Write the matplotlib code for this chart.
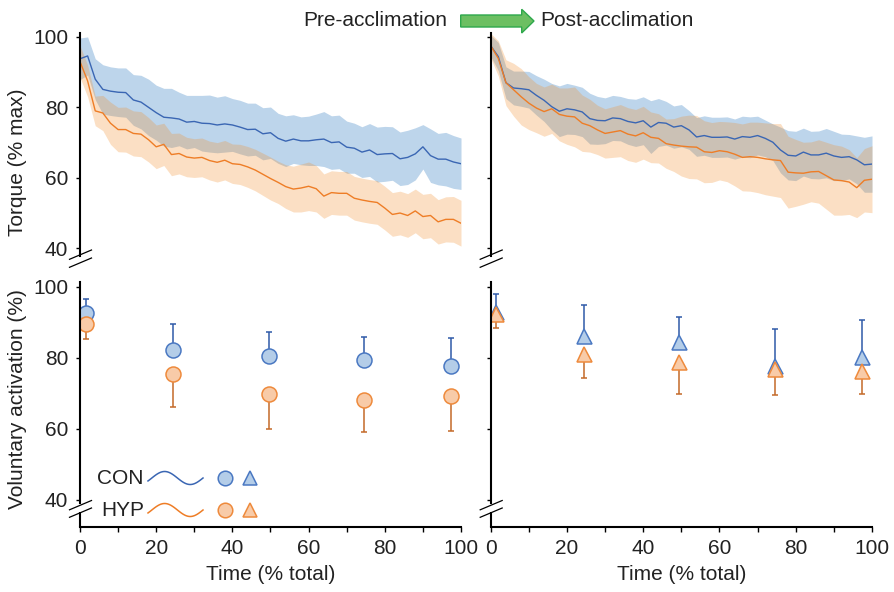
import numpy as np
import matplotlib
matplotlib.use("Agg")
import matplotlib.pyplot as plt
from matplotlib.lines import Line2D
from matplotlib.patches import Polygon
from matplotlib.transforms import Affine2D

plt.rcParams["font.family"] = ["Liberation Sans", "DejaVu Sans"]
plt.rcParams["font.size"] = 15

# --- data ---
time_pct = np.arange(0, 101, 2)

con_pre = [93.8, 94.6, 88.0, 85.1, 84.6, 84.3, 84.2, 82.1, 81.5, 80.0, 78.5,
           77.2, 77.0, 76.7, 75.8, 76.0, 75.5, 75.4, 75.0, 75.3, 75.0,
           74.4, 73.7, 73.8, 72.5, 72.8, 71.2, 70.4, 71.0, 70.5, 70.5,
           70.8, 71.0, 70.0, 70.2, 68.7, 68.4, 67.3, 67.9, 66.6, 66.8,
           66.9, 65.4, 65.8, 66.8, 68.8, 66.3, 65.3, 65.3, 64.5, 64.0]
con_pre_sd = [5.9, 5.4, 5.8, 7.0, 6.9, 6.9, 7.0, 7.2, 7.6, 8.0, 7.8,
              8.2, 8.4, 7.6, 7.6, 7.4, 7.9, 8.1, 7.9, 8.0, 7.5,
              7.6, 7.5, 7.4, 7.4, 7.3, 7.1, 7.2, 6.9, 6.8, 7.0,
              7.3, 7.8, 7.6, 7.6, 7.4, 7.1, 7.2, 7.5, 7.8, 7.8,
              7.6, 7.6, 7.7, 7.4, 6.3, 7.6, 7.3, 7.6, 7.5, 7.3]

hyp_pre = [93.0, 87.5, 79.0, 78.4, 75.5, 73.7, 73.7, 72.6, 72.4, 70.8, 68.8,
           69.5, 66.6, 66.9, 65.9, 65.6, 65.8, 64.9, 64.4, 65.0, 64.0,
           63.8, 63.1, 62.2, 61.0, 59.8, 58.7, 57.5, 56.8, 57.1, 57.6,
           56.9, 54.8, 55.8, 55.6, 55.6, 54.2, 53.7, 53.3, 53.0, 51.4,
           49.6, 50.0, 49.3, 50.6, 49.0, 49.3, 47.5, 48.2, 48.2, 47.1]
hyp_pre_sd = [4.5, 4.5, 4.2, 5.0, 6.0, 6.3, 6.4, 6.4, 6.4, 6.3, 6.2,
              6.0, 6.0, 5.8, 5.6, 5.5, 5.5, 5.5, 5.6, 5.6, 5.6,
              5.7, 5.8, 5.9, 6.0, 6.1, 6.0, 6.2, 6.5, 6.8, 6.9,
              6.6, 6.3, 6.2, 6.2, 6.2, 6.2, 6.2, 6.2, 6.2, 6.2,
              6.2, 6.2, 6.2, 6.2, 6.3, 6.3, 6.3, 6.4, 6.5, 6.5]

con_post = [97.5, 94.4, 87.0, 85.5, 85.3, 85.0, 83.4, 82.0, 80.2, 78.9, 79.6,
            79.3, 78.7, 76.8, 76.3, 76.2, 77.0, 76.8, 76.0, 75.6, 76.2,
            74.4, 75.7, 75.5, 74.4, 74.8, 73.6, 71.6, 72.0, 71.5, 71.5,
            71.6, 71.0, 71.7, 71.5, 72.0, 71.2, 70.1, 67.9, 66.4, 66.2,
            67.3, 66.5, 66.5, 67.0, 66.2, 65.8, 66.0, 65.1, 63.7, 63.9]
con_post_sd = [3.0, 4.0, 4.5, 4.8, 5.0, 5.2, 5.6, 6.0, 6.6, 7.2, 7.2,
               7.0, 7.0, 7.2, 6.8, 6.5, 6.4, 6.3, 6.5, 6.7, 6.8,
               7.5, 6.8, 6.2, 6.0, 6.0, 5.5, 5.5, 5.6, 5.7, 5.7,
               5.7, 5.7, 5.8, 5.8, 5.5, 5.2, 5.2, 6.5, 7.0, 7.0,
               6.8, 6.7, 6.8, 7.0, 7.0, 6.6, 6.3, 6.8, 7.8, 8.0]

hyp_post = [97.5, 93.9, 87.0, 85.0, 83.0, 81.2, 79.8, 78.8, 79.6, 78.0, 77.5,
            77.3, 75.5, 74.8, 73.6, 72.6, 73.0, 73.4, 72.4, 71.9, 72.8,
            71.5, 71.2, 69.7, 69.3, 69.0, 68.8, 68.7, 67.4, 67.2, 67.7,
            67.4, 66.7, 65.8, 66.0, 65.8, 65.4, 65.1, 64.9, 61.6, 61.4,
            61.3, 61.7, 61.8, 60.6, 59.4, 59.2, 58.8, 57.2, 59.3, 59.6]
hyp_post_sd = [3.5, 5.0, 6.5, 7.5, 8.0, 7.5, 7.0, 7.0, 7.0, 7.5, 8.0,
               8.5, 8.0, 7.5, 7.0, 7.0, 7.2, 7.4, 7.5, 7.5, 7.5,
               7.2, 7.0, 7.0, 7.5, 8.5, 9.0, 9.0, 8.8, 8.5, 8.3,
               8.5, 9.0, 9.5, 9.8, 10.0, 10.2, 10.3, 10.5, 10.2, 9.5,
               8.8, 8.5, 9.0, 9.5, 10.0, 9.8, 9.2, 8.5, 9.0, 9.5]

# voluntary activation (mean, one-sided SD)
va_time = [1.5, 24.5, 49.5, 74.5, 97.5]
con_va_pre = [92.7, 82.2, 80.5, 79.4, 77.7]
con_va_pre_sd = [3.7, 7.2, 6.7, 6.3, 7.9]
hyp_va_pre = [89.5, 75.5, 69.9, 68.1, 69.2]
hyp_va_pre_sd = [4.3, 9.3, 10.1, 8.9, 9.8]
con_va_post = [92.8, 86.0, 84.3, 77.6, 80.2]
con_va_post_sd = [5.1, 8.9, 7.2, 10.6, 10.4]
hyp_va_post = [92.3, 81.0, 78.8, 76.8, 76.2]
hyp_va_post_sd = [4.0, 6.7, 9.0, 7.4, 6.5]

# --- colours ---
CON_LINE = "#3a66b3"
CON_BAND = "#bdd5eb"
HYP_LINE = "#ee7d26"
HYP_BAND = "#f28e2b"
CON_FACE, CON_EDGE, CON_ERR = "#b4cde8", "#4a78c2", "#2f5aa8"
HYP_FACE, HYP_EDGE, HYP_ERR = "#f8cba8", "#ee8a3c", "#c46a28"
TXT = "#222222"

W, H = 895, 592
fig = plt.figure(figsize=(W / 100, H / 100), dpi=100)
pix = Affine2D().scale(1 / W, -1 / H).translate(0, 1) + fig.transFigure


def rect(l, t, r, b):
    return [l / W, 1 - b / H, (r - l) / W, (b - t) / H]


ax_tl = fig.add_axes(rect(80, 32.7, 461, 256))
ax_tr = fig.add_axes(rect(490.7, 32.7, 872, 256))
ax_bl = fig.add_axes(rect(80, 281.7, 461, 527))
ax_br = fig.add_axes(rect(490.7, 281.7, 872, 527))


def torque_panel(ax, con, con_sd, hyp, hyp_sd):
    con = np.array(con)
    hyp = np.array(hyp)
    con_sd = np.array(con_sd)
    hyp_sd = np.array(hyp_sd)
    ax.fill_between(time_pct, con - con_sd, con + con_sd, color=CON_BAND, lw=0)
    ax.plot(time_pct, con, color=CON_LINE, lw=1.0)
    ax.fill_between(time_pct, hyp - hyp_sd, hyp + hyp_sd, color=HYP_BAND,
                    alpha=0.28, lw=0)
    ax.plot(time_pct, hyp, color=HYP_LINE, lw=1.0)
    ax.set_xlim(0, 100)
    ax.set_ylim(37.8, 101.2)
    ax.set_xticks([])
    for s in ["top", "right", "bottom"]:
        ax.spines[s].set_visible(False)
    ax.spines["left"].set_linewidth(1.5)


def va_panel(ax, con, con_sd, hyp, hyp_sd, marker):
    zeros = [0] * len(va_time)
    ax.errorbar(va_time, con, yerr=[zeros, con_sd], fmt="none", ecolor=CON_ERR,
                elinewidth=1.1, capsize=2.3, capthick=1.1)
    ax.plot(va_time, con, ls="none", marker=marker, ms=10.8, mfc=CON_FACE,
            mec=CON_EDGE, mew=1.1)
    ax.errorbar(va_time, hyp, yerr=[hyp_sd, zeros], fmt="none", ecolor=HYP_ERR,
                elinewidth=1.1, capsize=2.3, capthick=1.1)
    ax.plot(va_time, hyp, ls="none", marker=marker, ms=10.8, mfc=HYP_FACE,
            mec=HYP_EDGE, mew=1.1)
    ax.set_xlim(0, 100)
    ax.set_ylim(32.3, 101.4)
    ax.set_xticks([0, 20, 40, 60, 80, 100])
    ax.set_xticks([10, 30, 50, 70, 90], minor=True)
    for s in ["top", "right"]:
        ax.spines[s].set_visible(False)
    ax.spines["left"].set_linewidth(1.5)
    ax.spines["bottom"].set_linewidth(1.5)
    ax.spines["left"].set_bounds(39.0, 101.4)
    ax.plot([0, 0], [32.3, 36.6], color="black", lw=1.5, clip_on=False,
            solid_capstyle="butt")
    ax.tick_params(axis="x", which="both", direction="out", length=3.5,
                   width=1, pad=5, labelcolor=TXT)
    ax.set_xlabel("Time (% total)", color=TXT, labelpad=5)


torque_panel(ax_tl, con_pre, con_pre_sd, hyp_pre, hyp_pre_sd)
torque_panel(ax_tr, con_post, con_post_sd, hyp_post, hyp_post_sd)
va_panel(ax_bl, con_va_pre, con_va_pre_sd, hyp_va_pre, hyp_va_pre_sd, "o")
va_panel(ax_br, con_va_post, con_va_post_sd, hyp_va_post, hyp_va_post_sd, "^")

for ax in [ax_tl, ax_tr, ax_bl, ax_br]:
    ax.set_yticks([40, 60, 80, 100])
    ax.tick_params(axis="y", direction="out", length=3, width=1, pad=5.5,
                   labelcolor=TXT)
for ax in [ax_tr, ax_br]:
    ax.tick_params(axis="y", labelleft=False)

# axis break marks
for x0 in [80, 490.7]:
    for y0 in [254.5, 262.5, 505.0, 512.5]:
        fig.add_artist(Line2D([x0 - 10.5, x0 + 11.5], [y0 + 4.8, y0 - 4.5],
                              transform=pix, color="black", lw=0.9))

# y labels
fig.text(18, 162, "Torque (% max)", transform=pix, rotation=90,
         ha="center", va="center", color=TXT)
fig.text(18, 399, "Voluntary activation (%)", transform=pix, rotation=90,
         ha="center", va="center", color=TXT)

# header with arrow
fig.text(447, 26, "Pre-acclimation", transform=pix, ha="right",
         va="baseline", color=TXT)
fig.text(540, 26, "Post-acclimation", transform=pix, ha="left",
         va="baseline", color=TXT)
arrow_xy = [(460.7, 15), (521.7, 15), (521.7, 9.3), (534, 21),
            (521.7, 33), (521.7, 27), (460.7, 27)]
fig.add_artist(Polygon(arrow_xy, closed=True, transform=pix,
                       facecolor="#6cbf62", edgecolor="#2ea84c", lw=1))

# legend drawn by hand
t = np.linspace(-0.15 * np.pi, 2 * np.pi, 60)
wave_x = 148 + (t - t[0]) / (t[-1] - t[0]) * 55
rows = [("CON", 478, CON_LINE, CON_FACE, CON_EDGE),
        ("HYP", 510, HYP_LINE, HYP_FACE, HYP_EDGE)]
for name, yc, lc, fc, ec in rows:
    fig.text(144, yc, name, transform=pix, ha="right", va="center", color=TXT)
    fig.add_artist(Line2D(wave_x, yc - 6.5 * np.sin(t), transform=pix,
                          color=lc, lw=1.1))
    fig.add_artist(Line2D([225], [yc], transform=pix, marker="o", ms=10.5,
                          mfc=fc, mec=ec, mew=1.1, ls="none"))
    fig.add_artist(Line2D([250], [yc], transform=pix, marker="^", ms=10.5,
                          mfc=fc, mec=ec, mew=1.1, ls="none"))

fig.savefig("out.png", dpi=100)
